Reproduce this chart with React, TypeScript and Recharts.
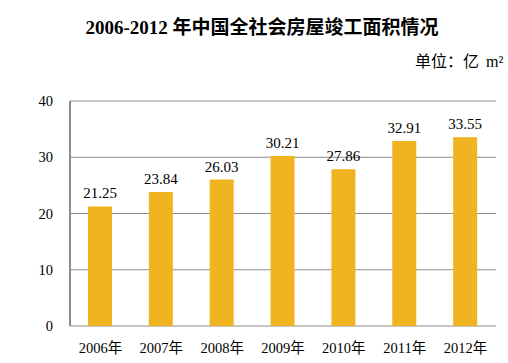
import React from "react";
import { BarChart, Bar, XAxis, YAxis, CartesianGrid, LabelList } from "recharts";

const years = ["2006年", "2007年", "2008年", "2009年", "2010年", "2011年", "2012年"];
const areas = [21.25, 23.84, 26.03, 30.21, 27.86, 32.91, 33.55];
const yTicks = [0, 10, 20, 30, 40];
const boundaryTicks = [0, 1, 2, 3, 4, 5, 6, 7];
const title = "2006-2012 年中国全社会房屋竣工面积情况";
const unitLabel = "单位：亿";
const unitSymbol = "m²";

const data = years.map((y, i) => ({ year: y, value: areas[i] }));

const FONT = "'Liberation Serif', 'Times New Roman', 'Noto Sans CJK SC', serif";

export default function App() {
  return (
    <div style={{ position: "absolute", left: 0, top: 0, width: 508, height: 363, background: "#fff", overflow: "hidden" }}>
      <div style={{ position: "absolute", left: 0, width: 524, top: 15, textAlign: "center", fontFamily: FONT, fontWeight: "bold", fontSize: 19, color: "#000", lineHeight: "26px", whiteSpace: "nowrap" }}>
        {title}
      </div>
      <div style={{ position: "absolute", left: 415, top: 50, fontFamily: FONT, fontSize: 16, color: "#000", lineHeight: "24px", whiteSpace: "nowrap" }}>
        {unitLabel}
        <span style={{ marginLeft: 7, fontSize: 16 }}>{unitSymbol}</span>
      </div>
      <div style={{ position: "absolute", left: 0, top: 0 }}>
        <BarChart width={508} height={363} data={data} margin={{ top: 101, right: 12, bottom: 0, left: 40 }}>
          <CartesianGrid vertical={false} stroke="#8c8c8c" strokeWidth={1} />
          <XAxis
            xAxisId="num"
            type="number"
            domain={[0, 7]}
            ticks={boundaryTicks}
            allowDataOverflow
            height={0}
            tick={false}
            tickSize={4}
            tickLine={{ stroke: "#8c8c8c", strokeWidth: 1.5 }}
            axisLine={{ stroke: "#8c8c8c", strokeWidth: 2 }}
          />
          <XAxis
            xAxisId="cat"
            dataKey="year"
            type="category"
            height={37}
            axisLine={false}
            tickLine={false}
            tickSize={0}
            tickMargin={17}
            interval={0}
            tick={{ fontFamily: FONT, fontSize: 14.5, fill: "#000" }}
          />
          <YAxis
            domain={[0, 40]}
            ticks={yTicks}
            width={30}
            tickLine={false}
            tickSize={0}
            tickMargin={17}
            axisLine={{ stroke: "#8c8c8c", strokeWidth: 2 }}
            tick={{ fontFamily: FONT, fontSize: 14.5, fill: "#000" }}
          />
          <Bar dataKey="value" xAxisId="cat" fill="#F1B421" barSize={24} isAnimationActive={false}>
            <LabelList dataKey="value" position="top" offset={8} style={{ fontFamily: FONT, fontSize: 15, fill: "#000" }} formatter={(v: number) => v.toFixed(2)} />
          </Bar>
        </BarChart>
      </div>
    </div>
  );
}
